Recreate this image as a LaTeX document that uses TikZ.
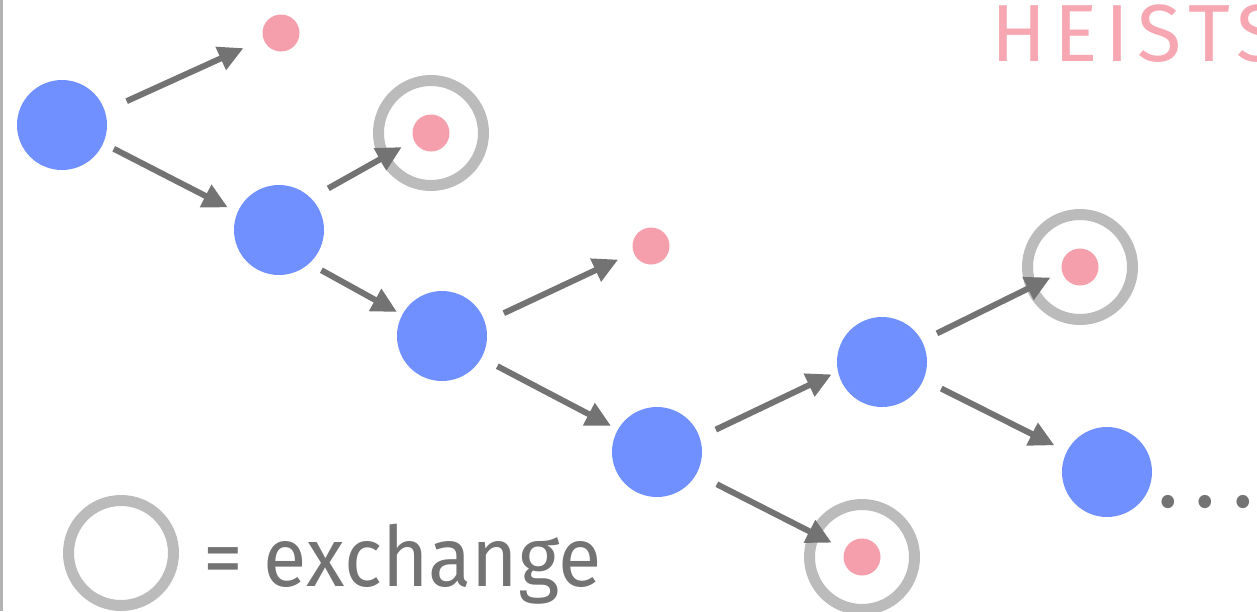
\documentclass[tikz,border=0pt]{standalone}
\usepackage{fontspec}
\usepackage{tikz}
\usetikzlibrary{positioning,arrows.meta}
\newfontfamily\labelfont[FakeStretch=0.95]{Fira Sans}
\newfontfamily\titlefont[LetterSpace=10]{Fira Sans}
\definecolor{hopblue}{HTML}{7090FF}
\definecolor{cashpink}{HTML}{F49FAB}
\definecolor{titlepink}{HTML}{F7A7B1}
\definecolor{ringgray}{HTML}{BBBBBB}
\definecolor{arrowgray}{HTML}{737373}
\definecolor{railgray}{HTML}{B3B3B3}
\tikzstyle{signal}=[arrows={-Triangle[length=25pt,width=24pt]},draw=arrowgray,line width=6pt]
\tikzstyle{hopnode}=[circle, fill=hopblue, minimum size=90pt, inner sep=0pt, outer sep=0pt]
\tikzstyle{cashnode}=[circle, fill=cashpink, minimum size=37pt, inner sep=0pt, outer sep=0pt]
\tikzstyle{ringnode}=[circle, draw=ringgray, line width=11pt, minimum size=105pt, inner sep=0pt]
\begin{document}
\begin{tikzpicture}[x=1pt,y=-1pt]

    \useasboundingbox (0,0) rectangle (1257,611);

    % left rail
    \draw[railgray, line width=3pt] (1.5,0) -- (1.5,611);

    % title
    \node[anchor=base west, inner sep=0pt, text=titlepink, font=\titlefont\fontsize{81pt}{81pt}\selectfont]
        (title) at (991,61) {HEISTS};

    % hops
    \foreach \n/\x/\y in {1/62/125, 2/279/230, 3/442/336, 4/657/452, 5/882/362, 6/1107/472}
        \node[hopnode] (h\n) at (\x,\y) {};

    % cash outs
    \foreach \n/\x/\y in {1/281/33, 2/431/133, 3/651/246, 4/1080/267, 5/862/557}
        \node[cashnode] (p\n) at (\x,\y) {};

    % exchanges
    \foreach \n in {2,4,5}
        \node[ringnode] (r\n) at (p\n) {};

    % arrows
    \foreach \a/\b/\s/\e in {h1.18/p1.199/24pt/22pt, h1.336/h2.157/12pt/11pt,
                             h2.45/p2.203/20pt/14pt, h2.312/h3.152/14pt/6pt,
                             h3.18/p3.200/21pt/17pt, h3.331/h4.150/18pt/8pt,
                             h4.19/h5.192/18pt/7pt, h4.331/p5.156/23pt/15pt,
                             h5.28/p4.195/17pt/13pt, h5.337/h6.153/20pt/14pt}
        \draw[signal, shorten <=\s, shorten >=\e] (\a) -- (\b);

    % more hops
    \node[anchor=base west, inner sep=0pt, text=arrowgray, font=\labelfont\fontsize{95pt}{95pt}\selectfont\addfontfeatures{LetterSpace=17}]
        (more) at (1157,507) {...};

    % legend
    \node[ringnode] (legend) at (121,553) {};
    \node[anchor=base west, inner sep=0pt, text=arrowgray, font=\labelfont\fontsize{83.5pt}{83.5pt}\selectfont]
        (legendtext) at (203,586) {= exchange};

\end{tikzpicture}
\end{document}
